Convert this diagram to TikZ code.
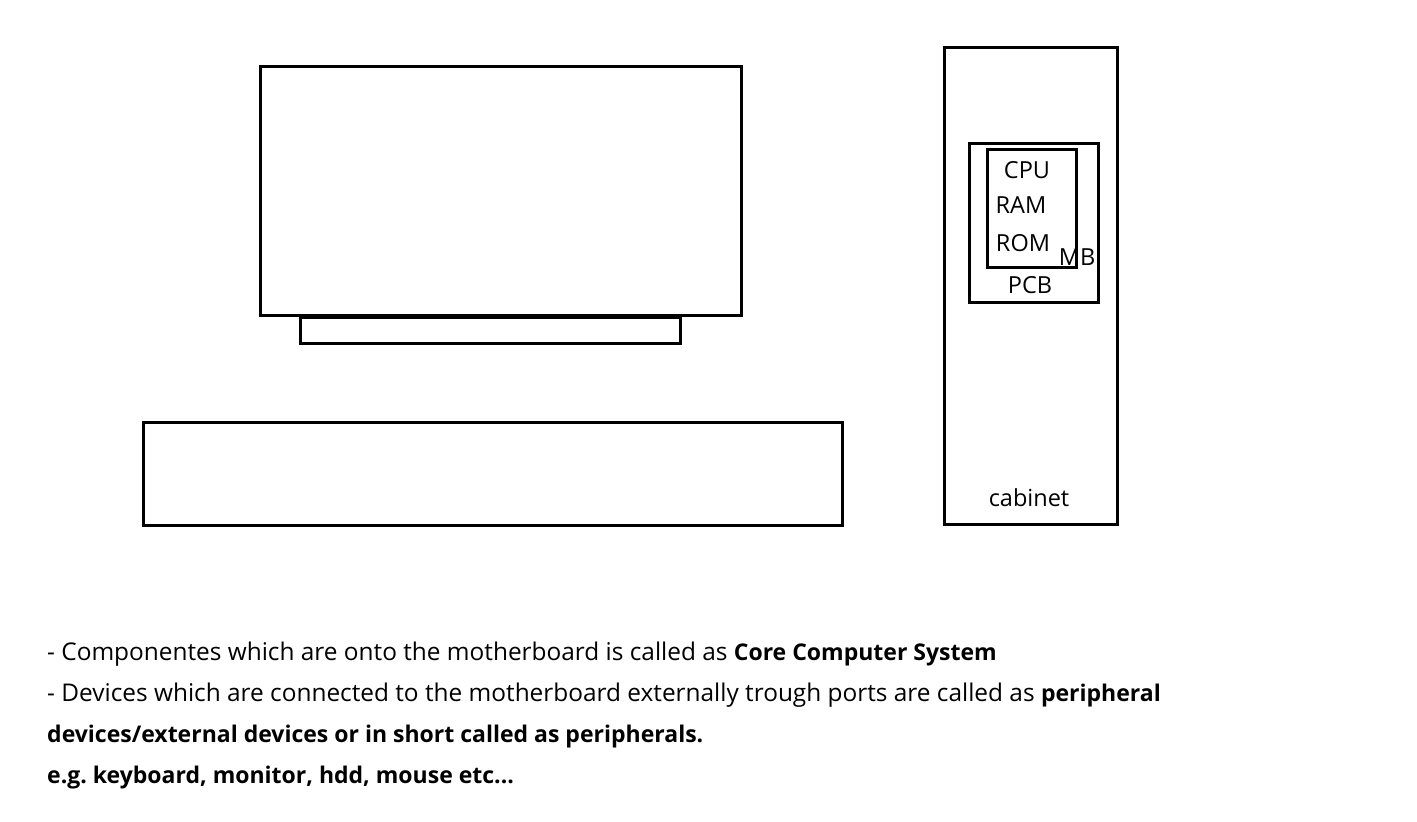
\documentclass[tikz,border=0pt]{standalone}
\usepackage{fontspec}
\setmainfont{Open Sans}
\frenchspacing
\newcommand{\bt}[1]{{\fontsize{23}{28}\selectfont\bfseries #1}}
\begin{document}
\begin{tikzpicture}[x=1pt,y=-1pt,
  box/.style={draw=black,line width=3pt},
  lbl/.style={font=\fontsize{23.5}{28}\selectfont,inner sep=0pt},
  txt/.style={font=\fontsize{24.4}{28}\selectfont,inner sep=0pt,anchor=base west}]
\useasboundingbox (0,0) rectangle (1417,822);
\fill[white] (0,0) rectangle (1417,822);
% monitor
\draw[box] (260,66) rectangle (741,315);
\draw[box] (300,317) rectangle (680,343);
% keyboard
\draw[box] (143,422) rectangle (842,525);
% cabinet
\draw[box] (944,47) rectangle (1117,524);
\draw[box] (969,143) rectangle (1098,302);
\draw[box] (987,149) rectangle (1076,267);
\node[lbl] (cpu) at (1027,170) {CPU};
\node[lbl] (ram) at (1021,205) {RAM};
\node[lbl] (rom) at (1023,243) {ROM};
\node[lbl] (mb) at (1077,257) {MB};
\node[lbl] (pcb) at (1030,285) {PCB};
\node[lbl] (cab) at (1029,498) {cabinet};
% text
\node[txt] (l1) at (47,660) {- Componentes which are onto the motherboard is called as \bt{Core Computer System}};
\node[txt] (l2) at (47,701) {- Devices which are connected to the motherboard externally trough ports are called as \bt{peripheral}};
\node[txt] (l3) at (47,742) {\bt{devices/external devices or in short called as peripherals.}};
\node[txt] (l4) at (47,783) {\bt{e.g. keyboard, monitor, hdd, mouse etc...}};
\end{tikzpicture}
\end{document}
